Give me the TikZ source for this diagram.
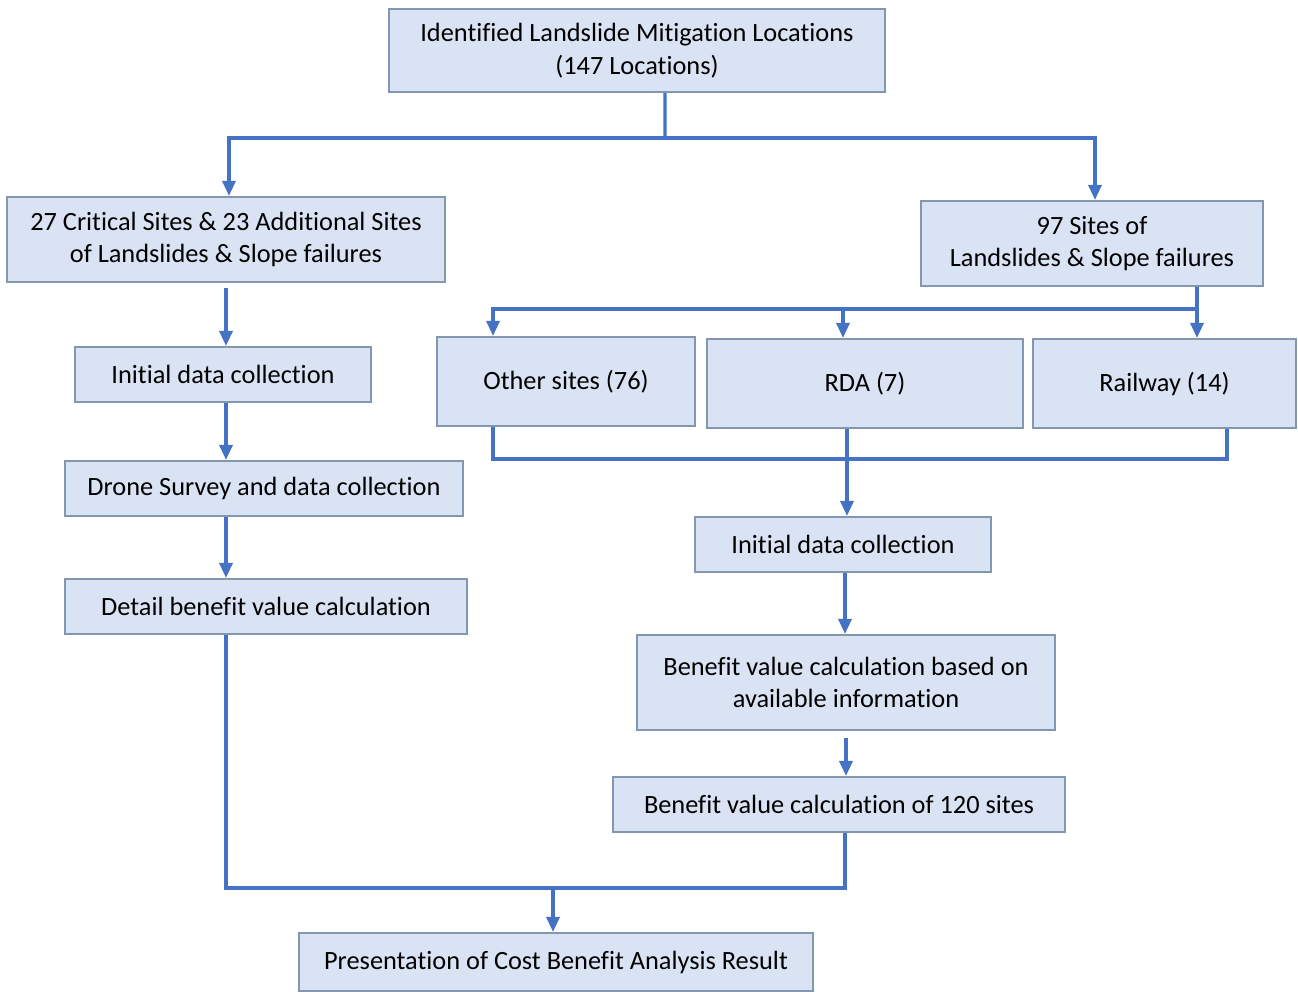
\documentclass[tikz,border=0pt]{standalone}
\usepackage{fontspec}
\setmainfont{Carlito}[Ligatures=NoCommon]
\usetikzlibrary{arrows.meta}
\definecolor{boxfill}{HTML}{DAE3F3}
\definecolor{boxline}{HTML}{8497B0}
\definecolor{flowblue}{HTML}{4472C4}
\begin{document}
\begin{tikzpicture}[x=0.02cm,y=-0.02cm,
  box/.style 2 args={draw=boxline,line width=1.2pt,fill=boxfill,inner sep=0pt,align=center,
    minimum width=#1*0.02cm,minimum height=#2*0.02cm,font=\fontsize{15}{18.5}\selectfont},
  line/.style={draw=flowblue,line width=1.9pt},
  flow/.style={line,-{Triangle[width=0.26cm,length=0.3cm]}}]
\useasboundingbox (0,0) rectangle (1298,991);

\node[box={496}{83}] (top) at (637,50.5) {Identified Landslide Mitigation Locations\\(147 Locations)};
\node[box={438}{85}] (left1) at (226,239.5) {27 Critical Sites \& 23 Additional Sites\\of Landslides \& Slope failures};
\node[box={342}{85}] (right1) at (1092,243.5) {97 Sites of\\Landslides \& Slope failures};
\node[box={296}{55}] (ini1) at (223,374.5) {Initial data collection};
\node[box={398}{55}] (drone) at (264,488.5) {Drone Survey and data collection};
\node[box={402}{55}] (detail) at (266,606.5) {Detail benefit value calculation};
\node[box={258}{89}] (other) at (566,381.5) {Other sites (76)};
\node[box={316}{89}] (rda) at (865,383.5) {RDA (7)};
\node[box={263}{89}] (rail) at (1164.5,383.5) {Railway (14)};
\node[box={296}{55}] (ini2) at (843,544.5) {Initial data collection};
\node[box={418}{95}] (ben1) at (846,682.5) {Benefit value calculation based on\\available information};
\node[box={452}{55}] (b120) at (839,804.5) {Benefit value calculation of 120 sites};
\node[box={514}{58}] (present) at (556,962) {Presentation of Cost Benefit Analysis Result};

% split from the top box
\coordinate (j1) at (665,138);
\draw[line] ([xshift=0.56cm]top.south) -- (j1);
\draw[flow] (j1) -| ([xshift=0.06cm]left1.north);
\draw[flow] (j1) -| ([xshift=0.06cm]right1.north);

% left column
\draw[flow] ([yshift=-0.1cm]left1.south) -- (left1.south |- ini1.north);
\draw[flow] (left1.south |- ini1.south) -- (left1.south |- drone.north);
\draw[flow] (left1.south |- drone.south) -- (left1.south |- detail.north);

% right column
\coordinate (j3) at (1197,309);
\draw[line] (right1.south -| j3) -- (j3);
\draw[flow] (j3) -| ([xshift=-1.46cm]other.north);
\draw[flow] (j3 -| ini2.north) -- (ini2.north |- rda.north);
\draw[flow] (j3) -- (j3 |- rail.north);

\coordinate (j4) at (1227,459);
\draw[line] ([xshift=-1.46cm]other.south) |- (j4) -- (j4 |- rail.south);
\draw[flow] ([xshift=0.08cm]ini2.north |- rda.south) -- ([xshift=0.08cm]ini2.north);
\draw[flow] ([xshift=0.04cm]ini2.south) -- ([xshift=0.04cm]ini2.south |- ben1.north);
\draw[flow] ([yshift=-0.14cm]ben1.south) -- (ben1.south |- b120.north);

% join at the bottom
\coordinate (j2) at (553,888);
\draw[line] (left1.south |- detail.south) |- (j2) -| ([xshift=0.12cm]b120.south);
\draw[flow] (j2) -- (j2 |- present.north);
\end{tikzpicture}
\end{document}
